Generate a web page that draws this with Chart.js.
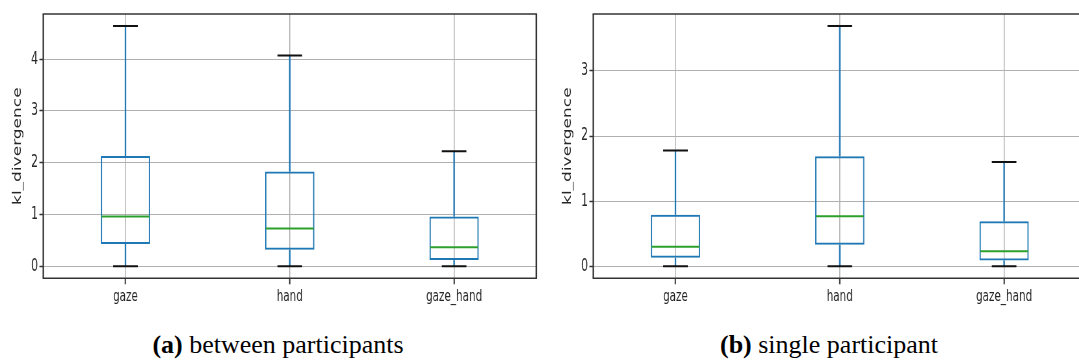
<!DOCTYPE html>
<html>
<head>
<meta charset="utf-8">
<script src="https://cdn.jsdelivr.net/npm/chart.js@4/dist/chart.umd.min.js"></script>
<style>
  body { margin: 0; width: 1079px; height: 362px; overflow: hidden; background: #fff; position: relative; }
  /* the source figures were squeezed sideways, so each panel is drawn wide and scaled down */
  .panel { position: absolute; top: 0; width: 831px; height: 312px; transform: scaleX(0.65); transform-origin: 0 0; }
  #panelA { left: 0; }
  #panelB { left: 550px; }
  .cap { position: absolute; top: 330px; width: 400px; text-align: center; font-family: 'Liberation Serif', 'Times New Roman', serif; font-size: 26px; color: #000; white-space: nowrap; }
  #capA { left: 78px; }
  #capB { left: 629px; }
</style>
</head>
<body>
<div class="panel" id="panelA"><canvas id="chartA" width="831" height="312"></canvas></div>
<div class="panel" id="panelB"><canvas id="chartB" width="831" height="312"></canvas></div>
<div class="cap" id="capA"><b>(a)</b> between participants</div>
<div class="cap" id="capB"><b>(b)</b> single participant</div>
<script>
var categories = ['gaze', 'hand', 'gaze_hand'];

// (a) between participants
var betweenMin = [0, 0, 0];
var betweenQ1 = [0.43, 0.32, 0.12];
var betweenMedian = [0.96, 0.73, 0.37];
var betweenQ3 = [2.13, 1.83, 0.96];
var betweenMax = [4.64, 4.07, 2.22];

// (b) single participant
var singleMin = [0, 0, 0];
var singleQ1 = [0.13, 0.33, 0.09];
var singleMedian = [0.30, 0.77, 0.23];
var singleQ3 = [0.79, 1.69, 0.69];
var singleMax = [1.78, 3.69, 1.60];

var BLUE = '#1f77b4';
var GREEN = '#2ca02c';
var GRID = '#b0b0b0';
var INK = '#262626';

function seg(ctx, x1, y1, x2, y2) {
  ctx.beginPath();
  ctx.moveTo(x1, y1);
  ctx.lineTo(x2, y2);
  ctx.stroke();
}

// whiskers, caps, medians and the frame on top of the floating bars
var boxParts = {
  id: 'boxParts',
  afterDatasetsDraw: function(chart, args, opts) {
    var ctx = chart.ctx;
    var y = chart.scales.y;
    var bars = chart.getDatasetMeta(0).data;
    ctx.save();
    bars.forEach(function(bar, i) {
      var x = bar.x, half = bar.width / 2;
      var pMin = y.getPixelForValue(opts.min[i]);
      var pQ1 = y.getPixelForValue(opts.q1[i]);
      var pMed = y.getPixelForValue(opts.median[i]);
      var pQ3 = y.getPixelForValue(opts.q3[i]);
      var pMax = y.getPixelForValue(opts.max[i]);

      ctx.strokeStyle = BLUE;
      ctx.lineWidth = 2.3;
      seg(ctx, x, pQ1, x, pMin);
      seg(ctx, x, pQ3, x, pMax);

      ctx.strokeStyle = '#111';
      ctx.lineWidth = 2;
      seg(ctx, x - half / 2, pMin, x + half / 2, pMin);
      seg(ctx, x - half / 2, pMax, x + half / 2, pMax);

      ctx.strokeStyle = GREEN;
      ctx.lineWidth = 2;
      seg(ctx, x - half + 1, pMed, x + half - 1, pMed);
    });

    var a = chart.chartArea;
    ctx.strokeStyle = '#333';
    ctx.lineWidth = 1.5;
    seg(ctx, a.left - 1, a.top, a.right + 1, a.top);
    seg(ctx, a.left - 1, a.bottom, a.right + 1, a.bottom);
    ctx.lineWidth = 2.3;
    seg(ctx, a.left, a.top, a.left, a.bottom);
    seg(ctx, a.right, a.top, a.right, a.bottom);
    ctx.restore();
  }
};

function makeChart(id, lo, q1, median, q3, hi) {
  var top = Math.max.apply(null, hi);
  var bottom = Math.min.apply(null, lo);
  var margin = 0.05 * (top - bottom);
  var font = { family: "'DejaVu Sans', sans-serif", size: 16 };

  return new Chart(document.getElementById(id), {
    type: 'bar',
    data: {
      labels: categories,
      datasets: [{
        data: categories.map(function(c, i) { return [q1[i], q3[i]]; }),
        backgroundColor: 'rgba(0,0,0,0)',
        borderColor: BLUE,
        borderWidth: 2,
        borderSkipped: false,
        barPercentage: 0.3,
        categoryPercentage: 1
      }]
    },
    options: {
      responsive: false,
      animation: false,
      events: [],
      layout: { padding: { top: 14, right: 6, left: 0, bottom: 0 } },
      plugins: {
        legend: { display: false },
        tooltip: { enabled: false },
        boxParts: { min: lo, q1: q1, median: median, q3: q3, max: hi }
      },
      scales: {
        x: {
          offset: true,
          border: { display: false },
          grid: { offset: false, color: GRID, lineWidth: 1.5, tickColor: '#333', tickLength: 6, tickWidth: 2 },
          ticks: { color: INK, font: font, padding: 3, maxRotation: 0 },
          afterFit: function(s) { s.height = 33.7; }
        },
        y: {
          min: bottom - margin,
          max: top + margin,
          border: { display: false },
          grid: { color: GRID, lineWidth: 1, tickColor: '#333', tickLength: 6, tickWidth: 1.5 },
          ticks: { stepSize: 1, includeBounds: false, color: INK, font: { family: "'DejaVu Sans', sans-serif", size: 17 }, padding: 2 },
          title: {
            display: true,
            text: 'kl_divergence',
            color: INK,
            font: { family: "'DejaVu Sans', sans-serif", size: 17 },
            padding: { top: 17, bottom: 0 }
          },
          afterFit: function(s) { s.width = 66.6; }
        }
      }
    },
    plugins: [boxParts]
  });
}

makeChart('chartA', betweenMin, betweenQ1, betweenMedian, betweenQ3, betweenMax);
makeChart('chartB', singleMin, singleQ1, singleMedian, singleQ3, singleMax);
</script>
</body>
</html>
